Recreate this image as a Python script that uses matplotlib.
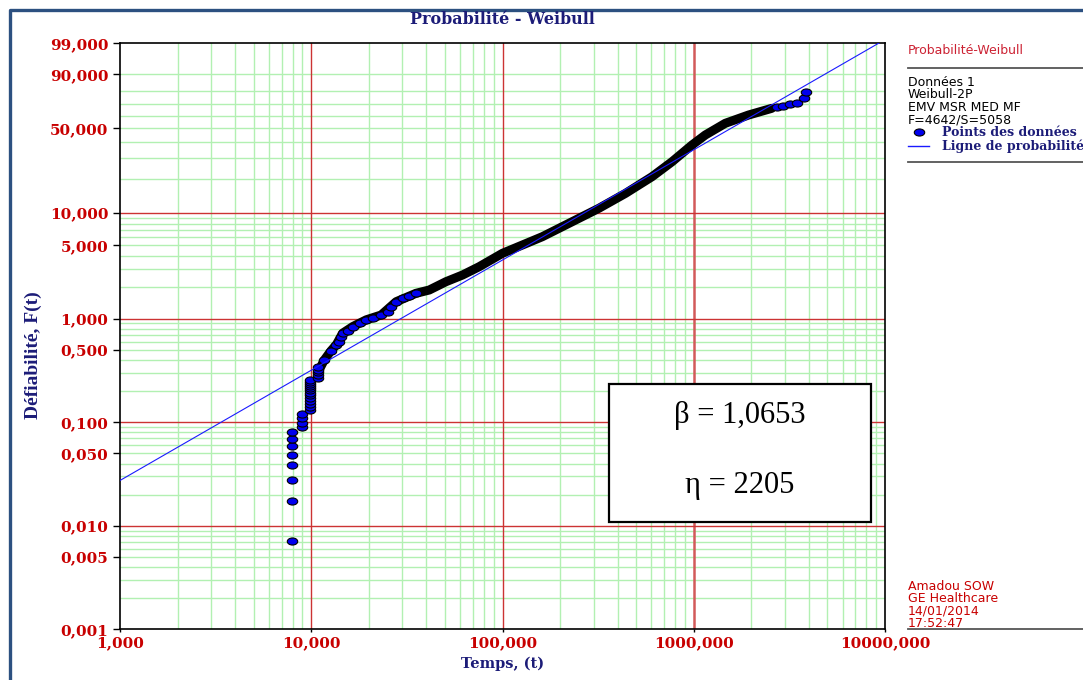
import numpy as np
import matplotlib.pyplot as plt
from matplotlib.path import Path
from matplotlib.transforms import Affine2D
from matplotlib.lines import Line2D
from matplotlib.patches import Rectangle

# Weibull-2P fit shown on the chart
beta = 1.0653
eta = 2205

# first failures, separate dots (time, unreliability F in %)
dots_t = [7.9, 7.9, 7.9, 7.9, 7.9, 7.9, 7.9, 7.9,
          8.9, 8.9, 8.9, 8.9,
          9.9, 9.9, 9.9, 9.9, 9.9, 9.9, 9.9, 9.9, 9.9, 9.9, 9.9, 9.9, 9.9,
          10.8, 10.8, 10.8, 10.8, 10.8,
          11.7, 12.7, 13.5, 13.9, 14.3, 14.6, 15.5, 16.5, 17.9, 19.4,
          21.0, 23.2, 25.1, 26.2, 27.8, 30.1, 32.6, 35.3]
dots_F = [0.0072, 0.0175, 0.0277, 0.0385, 0.0484, 0.0587, 0.0686, 0.0801,
          0.0896, 0.0992, 0.1094, 0.1204,
          0.132, 0.142, 0.152, 0.162, 0.172, 0.183, 0.193, 0.203, 0.214, 0.224, 0.234, 0.245, 0.255,
          0.266, 0.285, 0.305, 0.323, 0.340,
          0.400, 0.492, 0.559, 0.602, 0.660, 0.725, 0.768, 0.840, 0.906, 0.975,
          1.008, 1.084, 1.166, 1.302, 1.455, 1.568, 1.650, 1.751]

# dense part of the data (thousands of points -> solid black band)
band_t = [10.8, 11.7, 12.7, 13.5, 14.6, 16.5, 19.4, 23.2, 27.8, 35.3, 41.4, 50.6,
          61.8, 75.5, 100, 161.5, 241, 319, 440, 605, 770, 979, 1149, 1462, 1934, 2558]
band_F = [0.30, 0.400, 0.492, 0.559, 0.725, 0.840, 0.975, 1.084, 1.455, 1.751, 1.883, 2.260,
          2.619, 3.142, 4.212, 6.035, 8.63, 11.05, 15.08, 21.07, 28.13, 38.05, 45.02, 53.99,
          60.68, 66.16]

# last points at the top end
tail_t = [2718, 2944, 3191, 3453, 3788, 3867]
tail_F = [66.98, 68.28, 69.41, 70.70, 74.17, 78.72]

y_ticks = [0.001, 0.005, 0.01, 0.05, 0.1, 0.5, 1, 5, 10, 50, 90, 99]
y_labels = ["0,001", "0,005", "0,010", "0,050", "0,100", "0,500", "1,000",
            "5,000", "10,000", "50,000", "90,000", "99,000"]
x_ticks = [1, 10, 100, 1000, 10000]
x_labels = ["1,000", "10,000", "100,000", "1000,000", "10000,000"]

W, H = 1083, 680


def px(x, y):
    return x / W, 1 - y / H


def weib(p):
    p = np.clip(np.asarray(p, dtype=float), 1e-7, 99.99999) / 100.0
    return np.log(-np.log(1 - p))


def weib_inv(w):
    return 100.0 * (1 - np.exp(-np.exp(w)))


navy = "#1c1c78"
red_txt = "#c80000"
green = "#b2f0b2"
red_grid = "#cc3333"

fig = plt.figure(figsize=(W / 100, H / 100), dpi=100)
ax = fig.add_axes([120 / W, (H - 629.3) / H, 765 / W, 586 / H])
ax.set_xscale("log")
ax.set_yscale("function", functions=(weib, weib_inv))
ax.set_xlim(1, 10000)
ax.set_ylim(0.001, 99)

# grid, drawn by hand: green for 2..9, red for decades
for e in range(0, 4):
    for k in range(2, 10):
        ax.axvline(k * 10 ** e, color=green, lw=1, zorder=0)
for v in [10, 100]:
    ax.axvline(v, color=red_grid, lw=1, zorder=1)
ax.axvline(1000, color="#d25a5a", lw=1.8, zorder=1)
for e in range(-3, 1):
    for k in range(2, 10):
        ax.axhline(k * 10.0 ** e, color=green, lw=1, zorder=0)
for k in range(2, 10):
    ax.axhline(k * 10, color=green, lw=1, zorder=0)
for v in [0.01, 0.1, 1, 10]:
    ax.axhline(v, color=red_grid, lw=1, zorder=1)

# data
ell = Path.unit_circle().transformed(Affine2D().scale(1.0, 0.68))
ax.plot(band_t, band_F, color="black", lw=6.5, solid_capstyle="round",
        solid_joinstyle="round", zorder=3)
ax.plot(dots_t + tail_t, dots_F + tail_F, ls="none", marker=ell, ms=7.5,
        mfc="#0000ee", mec="black", mew=0.8, zorder=4)

tt = np.array([1.0, 10000.0])
ax.plot(tt, weib_inv(beta * (np.log(tt) - np.log(eta))), color="#1a1aff", lw=0.8, zorder=5)

ax.set_xticks(x_ticks)
ax.set_xticklabels(x_labels)
ax.set_yticks(y_ticks)
ax.set_yticklabels(y_labels)
ax.minorticks_off()
for lab in ax.get_xticklabels() + ax.get_yticklabels():
    lab.set_fontfamily("DejaVu Serif")
    lab.set_fontweight("bold")
    lab.set_fontsize(11)
    lab.set_color(red_txt)
ax.tick_params(axis="y", length=5, width=1, pad=3.5)
ax.tick_params(axis="x", length=2, width=1, pad=3)
for s in ax.spines.values():
    s.set_color("black")
    s.set_linewidth(1.2)

# titles
fig.text(*px(502.5, 19), "Probabilité - Weibull", ha="center", va="center",
         family="DejaVu Serif", weight="bold", fontsize=11.5, color=navy)
fig.text(*px(502.5, 664), "Temps, (t)", ha="center", va="center",
         family="DejaVu Serif", weight="bold", fontsize=10.5, color=navy)
fig.text(*px(33, 355), "Défiabilité, F(t)", ha="center", va="center", rotation=90,
         family="Liberation Serif", weight="bold", fontsize=14, color=navy)

# parameter box
bx0, by0, bx1, by1 = 609, 384, 871, 522
fig.add_artist(Rectangle(px(bx0, by1), (bx1 - bx0) / W, (by1 - by0) / H,
                         transform=fig.transFigure, facecolor="white",
                         edgecolor="black", lw=1.6, zorder=6))
fig.text(*px(740, 415), "β = 1,0653", ha="center", va="center",
         family="Liberation Serif", fontsize=22, zorder=7)
fig.text(*px(740, 485), "η = 2205", ha="center", va="center",
         family="Liberation Serif", fontsize=22, zorder=7)

# legend panel on the right
fig.text(*px(908, 50.7), "Probabilité-Weibull", va="center", fontsize=9,
         family="DejaVu Sans", color="#cc2233")
for yy in [68.3, 161.7, 629.3]:
    fig.add_artist(Line2D([908 / W, 1], [1 - yy / H] * 2, transform=fig.transFigure,
                          color="#555555", lw=1.3))
info = ["Données 1", "Weibull-2P", "EMV MSR MED MF", "F=4642/S=5058"]
for i, s in enumerate(info):
    fig.text(*px(908, 82.7 + 12.3 * i), s, va="center", fontsize=9,
             family="DejaVu Sans", color="black")
fig.add_artist(Line2D([919 / W], [1 - 132.3 / H], transform=fig.transFigure, ls="none",
                      marker=ell, ms=7.5, mfc="#0000ee", mec="black", mew=0.8))
fig.add_artist(Line2D([908 / W, 929 / W], [1 - 146 / H] * 2, transform=fig.transFigure,
                      color="#1a1aff", lw=1))
fig.text(*px(942, 132.3), "Points des données", va="center", fontsize=9,
         family="DejaVu Serif", weight="bold", color=navy)
fig.text(*px(942, 146), "Ligne de probabilité", va="center", fontsize=9,
         family="DejaVu Serif", weight="bold", color=navy)

author = ["Amadou SOW", "GE Healthcare", "14/01/2014", "17:52:47"]
for i, s in enumerate(author):
    fig.text(*px(908, 586 + 12.4 * i), s, va="center", fontsize=9,
             family="DejaVu Sans", color=red_txt)

# outer frame (left and top)
fig.add_artist(Line2D([10 / W, 10 / W, 1], [0, 1 - 10 / H, 1 - 10 / H],
                      transform=fig.transFigure, color="#2c5080", lw=2.4))

fig.savefig("out.png", dpi=100)
